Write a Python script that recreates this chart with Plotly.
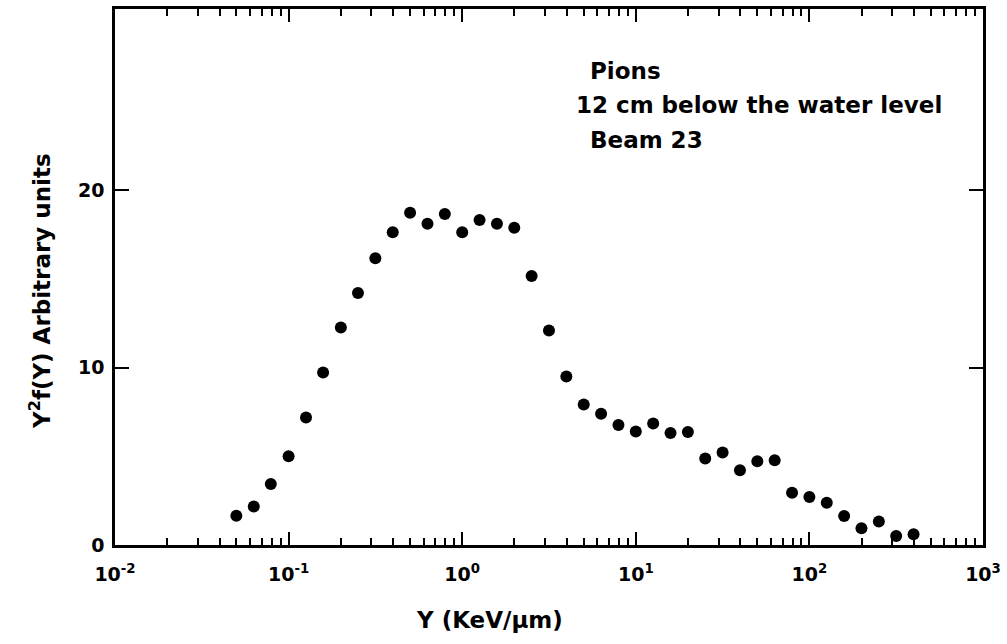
import plotly.graph_objects as go

# Data
y_kev_um = [0.05, 0.063, 0.079, 0.1, 0.126, 0.158, 0.2, 0.251, 0.316, 0.398,
            0.501, 0.631, 0.794, 1.0, 1.259, 1.585, 1.995, 2.512, 3.162, 3.981,
            5.012, 6.31, 7.943, 10.0, 12.59, 15.85, 19.95, 25.12, 31.62, 39.81,
            50.12, 63.1, 79.43, 100.0, 125.9, 158.5, 199.5, 251.2, 316.2, 398.1]
y2f_values = [1.65, 2.17, 3.44, 5.0, 7.19, 9.72, 12.26, 14.2, 16.16, 17.62,
              18.72, 18.1, 18.65, 17.62, 18.31, 18.1, 17.87, 15.15, 12.08, 9.49,
              7.92, 7.4, 6.76, 6.39, 6.84, 6.31, 6.37, 4.87, 5.21, 4.21,
              4.72, 4.78, 2.94, 2.71, 2.38, 1.63, 0.94, 1.33, 0.51, 0.6]

x_major = [0.01, 0.1, 1, 10, 100, 1000]
x_major_text = ["10<sup>-2</sup>", "10<sup>-1</sup>", "10<sup>0</sup>",
                "10<sup>1</sup>", "10<sup>2</sup>", "10<sup>3</sup>"]
x_minor = [m * d for d in [0.01, 0.1, 1, 10, 100] for m in range(2, 10)]
y_major = [0, 10, 20]
y_major_text = ["0", "10", "20"]

labels = ["Pions", "12 cm below the water level", "Beam 23"]
x_title = "Y (KeV/\u03bcm)"
y_title = "Y<sup>2</sup>f(Y) Arbitrary units"

FONT = "DejaVu Sans"
L, R, T, B = 115, 18, 6, 99
PW, PH = 1007 - L - R, 644 - T - B


def px(xp):
    return (xp - L) / PW


def py(yp):
    return (644 - B - yp) / PH


fig = go.Figure()
fig.add_trace(go.Scatter(
    x=y_kev_um, y=y2f_values, mode="markers",
    marker=dict(color="black", size=12, line=dict(width=0)),
    showlegend=False,
))

fig.update_layout(
    width=1007, height=644,
    margin=dict(l=L, r=R, t=T, b=B),
    paper_bgcolor="white", plot_bgcolor="white",
    font=dict(family=FONT, color="black"),
    xaxis=dict(
        type="log", range=[-2, 3],
        tickvals=x_major, ticktext=x_major_text,
        ticks="inside", ticklen=13, tickwidth=2, tickcolor="black",
        minor=dict(tickvals=x_minor, ticks="inside", ticklen=7,
                   tickwidth=2, tickcolor="black"),
        showline=True, linewidth=2.5, linecolor="black", mirror="ticks",
        showgrid=False, zeroline=False, ticklabelstandoff=10,
        ticklabeloverflow="allow",
        tickfont=dict(family=FONT, size=19, color="black", weight="bold"),
    ),
    yaxis=dict(
        range=[0, 30.2],
        tickvals=y_major, ticktext=y_major_text,
        ticks="inside", ticklen=14, tickwidth=2, tickcolor="black",
        showline=True, linewidth=2.5, linecolor="black", mirror="ticks",
        showgrid=False, zeroline=False, ticklabelstandoff=4,
        tickfont=dict(family=FONT, size=19, color="black", weight="bold"),
    ),
)

fig.add_annotation(
    text=x_title, xref="paper", yref="paper", x=px(492), y=py(620),
    xanchor="center", yanchor="middle", showarrow=False,
    font=dict(family=FONT, size=23, color="black", weight="bold"),
)
fig.add_annotation(
    text=y_title, xref="paper", yref="paper", x=px(40), y=py(290),
    xanchor="center", yanchor="middle", showarrow=False, textangle=-90,
    font=dict(family=FONT, size=23, color="black", weight="bold"),
)

ann_x = [px(591), px(577), px(591)]
ann_y = [py(68), py(103), py(138)]
for t, ax_, ay_ in zip(labels, ann_x, ann_y):
    fig.add_annotation(
        text=t, xref="paper", yref="paper", x=ax_, y=ay_,
        xanchor="left", yanchor="middle", showarrow=False,
        font=dict(family=FONT, size=23, color="black", weight="bold"),
    )

fig.write_html("out.html", config={"displayModeBar": False},
               post_script="document.body.style.margin='0';")
